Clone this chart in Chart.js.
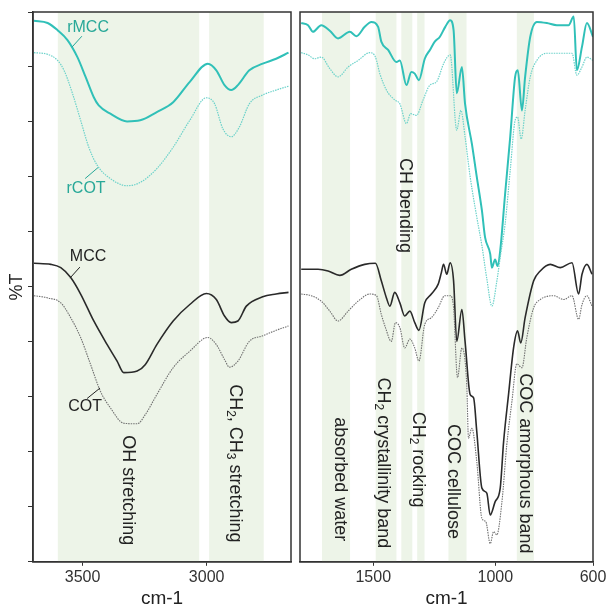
<!DOCTYPE html>
<html lang="en">
<head>
<meta charset="UTF-8">
<title>FTIR spectra</title>
<script src="https://cdn.jsdelivr.net/npm/chart.js@4.4.0/dist/chart.umd.min.js"></script>
<style>
  body { margin: 0; background: #fff; }
  #wrap { position: relative; width: 609px; height: 608px; }
  canvas { position: absolute; top: 0; }
</style>
</head>
<body>
<div id="wrap">
  <canvas id="leftChart" width="300" height="608" style="left:0"></canvas>
  <canvas id="rightChart" width="313" height="608" style="left:296px"></canvas>
</div>
<script>
// ---- left panel: 3700-2660 cm-1 ----
const leftTicks = [3500, 3000];

const leftWnRMCC = [3696,3641,3601,3561,3521,3488,3455,3435,3388,3321,3268,3201,3135,3068,2995,2961,2928,2901,2874,2828,2774,2720,2670];
const leftTRMCC  = [98.4,98,96.7,94.9,91.8,88.2,84.5,83,81.5,80.1,80.3,81.8,83.6,87.3,90.6,89.4,86.7,85.8,86.7,89.4,90.6,91.5,92.6];

const leftWnRCOT = [3696,3641,3601,3575,3541,3508,3475,3441,3388,3321,3268,3201,3135,3068,3001,2968,2935,2901,2868,2828,2774,2720,2670];
const leftTRCOT  = [92.6,92.3,91.2,89.4,85.2,80.3,75.4,72.1,69.7,68.4,69,71.5,75.4,80.3,84.4,83.3,78.8,77.3,79.1,83.3,84.9,85.8,86.5];

const leftWnMCC = [3696,3628,3588,3548,3508,3455,3401,3361,3334,3280,3247,3201,3135,3068,3001,2961,2928,2901,2874,2840,2774,2720,2670];
const leftTMCC  = [54.3,54.1,53.5,51.7,48.7,43.8,39.5,36.5,34.4,34.7,35.9,39.5,43.8,46.8,48.8,47.7,44.7,43.5,43.8,46.5,48.2,48.7,49];

const leftWnCOT = [3696,3641,3588,3548,3508,3468,3428,3388,3334,3280,3247,3201,3135,3068,2995,2961,2928,2908,2874,2828,2774,2720,2670];
const leftTCOT  = [48.4,48,47.1,44.4,40.8,35.9,31,28,25.2,25.1,26.8,30.4,35.3,38.3,40.8,39.5,36.8,35.4,36.5,40.1,41.1,42.1,42.9];

const leftBands = [[3600, 3030], [2990, 2770]];
const leftBandLabels = ['OH stretching', 'CH_2, CH_3 stretching'];
const leftBandLabelWn = [3317, 2886];
const leftBandLabelT = [13, 17.9];

// ---- right panel: 1800-600 cm-1 ----
const rightTicks = [1500, 1000, 600];

const rightWnRMCC = [1795,1767,1747,1713,1678,1644,1596,1569,1535,1508,1480,1467,1439,1405,1391,1364,1344,1330,1313,1289,1268,1248,1227,1205,1185,1171,1158,1137,1124,1096,1076,1055,1042,1021,1014,1001,991,980,960,939,919,908,891,878,857,830,789,748,700,679,666,645,625,600];
const rightTRMCC  = [98,97.6,96.4,97.6,96.6,95.2,96.4,95.6,97.3,98.2,97.3,94.6,93.1,90.9,91.2,86.7,89.1,88.8,87.6,91.5,93.1,94.6,95.5,97.3,98.5,96.7,85.2,90,83.3,76,70,63.9,59,56,53.5,55,53.8,56.6,66.9,77.3,88.2,89.4,82.1,88.2,95.5,98.2,98,97.6,97.6,99.2,89.4,93.7,98,95.5];

const rightWnRCOT = [1795,1767,1740,1713,1678,1644,1603,1562,1514,1491,1473,1446,1412,1391,1364,1347,1323,1296,1268,1241,1210,1185,1158,1141,1124,1103,1076,1055,1035,1014,994,978,960,939,919,909,894,878,857,830,789,734,686,666,645,625,600];
const rightTRCOT  = [92.6,92.2,91.5,91.8,89.7,88.2,90,91.2,92.6,91.8,88.8,85.8,84,83.3,79.7,81.5,81.2,84,86.7,87.3,90.8,92.2,78.5,82.1,77.3,70,62.7,57.5,51.5,46.5,51,56,61.4,71.2,80.3,80.9,76.9,82.1,88.2,91.2,92.5,92.5,92.5,88.5,90,91.8,91.2];

const rightWnMCC = [1795,1726,1685,1637,1590,1535,1491,1467,1446,1432,1412,1391,1371,1350,1330,1313,1289,1262,1234,1221,1212,1199,1185,1171,1158,1137,1124,1103,1089,1076,1055,1035,1021,1001,980,966,946,925,909,896,878,843,816,775,734,686,659,645,625,604];
const rightTMCC  = [53.2,53.2,52.9,52.1,53.2,54.1,54.3,51.1,48,46.5,49,47.1,44.7,45.6,43.5,42.1,47.1,48.7,50.5,52.6,54.1,52.3,54.4,51.1,40.1,45.9,40.1,30.4,29.8,23.7,13.4,12.5,8.5,10.9,13.4,21.9,30.4,39,42,39.8,44.4,51.1,52.9,54.1,53.5,54.4,48.7,52.3,54.1,52.3];

const rightWnCOT = [1795,1754,1713,1678,1644,1603,1562,1514,1487,1467,1450,1426,1409,1391,1371,1350,1330,1313,1289,1262,1234,1207,1185,1171,1155,1137,1117,1110,1096,1076,1055,1039,1021,1007,994,973,953,932,912,891,871,843,816,761,720,686,659,645,625,604];
const rightTCOT  = [48.7,48.4,47.4,45.6,43.8,45.6,47.4,48.7,48.4,45,42.6,40.1,43.5,42.6,38.9,40.5,38.9,36.5,43.2,44.4,46.2,48.4,48.4,46.2,33.5,38.9,32.2,22.5,24.3,18.2,7.9,7.3,3.3,5.5,4.9,10.9,21.3,29.2,36,35.3,40.8,46.2,47.7,48.4,47.7,48.4,44.1,46.8,48.4,46.5];

const rightBands = [[1710, 1595], [1490, 1405], [1385, 1340], [1320, 1290], [1192, 1118], [912, 842]];
const rightBandLabels = ['CH bending', 'absorbed water', 'CH_2 crystallinity band', 'CH_2 rocking', 'COC cellulose', 'COC amorphous band'];
const rightBandLabelWn = [1370, 1636, 1460, 1316, 1173, 878];
const rightBandLabelT = [64.8, 15, 18, 18.6, 14.6, 17.9];

// curve name labels (left panel), with leader lines
const curveNames = ['rMCC', 'rCOT', 'MCC', 'COT'];
const curveNameWn = [3478, 3486, 3478, 3490];
const curveNameT = [97.1, 67.9, 55.5, 28.3];
const leaderFromWn = [3503, 3490, 3511, 3482];
const leaderFromT = [95.6, 69.7, 53.6, 29.7];
const leaderToWn = [3543, 3438, 3551, 3430];
const leaderToT = [93.6, 71.7, 51.6, 31.6];

const colRMCC = '#30c0b8';
const colRCOT = '#6cd2ca';
const colMCC = '#2a2a2a';
const colCOT = '#707070';
const labelCols = ['#28a898', '#28a898', '#222', '#222'];
const FONT = '"Liberation Sans", Arial, sans-serif';

function pts(xs, ys) { return xs.map((x, i) => ({ x: x, y: ys[i] })); }

function series(label, xs, ys, color, width, dash) {
  return {
    label: label, data: pts(xs, ys), borderColor: color, borderWidth: width,
    borderDash: dash || [], pointRadius: 0, fill: false,
    cubicInterpolationMode: 'monotone'
  };
}

// draws text rotated 90deg clockwise, "_2" style markers become subscripts
function drawRotated(ctx, text, x, y) {
  const parts = text.split(/(_\d)/).filter(s => s.length);
  const big = '18px ' + FONT, small = '12px ' + FONT;
  let total = 0;
  parts.forEach(p => { ctx.font = p[0] === '_' ? small : big; total += ctx.measureText(p[0] === '_' ? p.slice(1) : p).width; });
  ctx.save();
  ctx.translate(x, y);
  ctx.rotate(Math.PI / 2);
  ctx.fillStyle = '#222';
  ctx.textBaseline = 'middle';
  ctx.textAlign = 'left';
  let cx = -total / 2;
  parts.forEach(p => {
    const sub = p[0] === '_';
    const s = sub ? p.slice(1) : p;
    ctx.font = sub ? small : big;
    ctx.fillText(s, cx, sub ? 5 : 0);
    cx += ctx.measureText(s).width;
  });
  ctx.restore();
}

function decor(bands, bandLabels, bandWn, bandT, withNames) {
  return {
    id: 'decor',
    beforeDatasetsDraw(chart) {
      const { ctx, chartArea: a, scales: { x } } = chart;
      ctx.save();
      ctx.fillStyle = '#edf4e8';
      bands.forEach(b => {
        const x1 = x.getPixelForValue(b[0]), x2 = x.getPixelForValue(b[1]);
        ctx.fillRect(Math.min(x1, x2), a.top, Math.abs(x2 - x1), a.bottom - a.top);
      });
      ctx.restore();
    },
    afterDatasetsDraw(chart) {
      const { ctx, scales: { x, y } } = chart;
      bandLabels.forEach((t, i) => drawRotated(ctx, t, x.getPixelForValue(bandWn[i]), y.getPixelForValue(bandT[i])));
      if (withNames) {
        ctx.save();
        ctx.font = '16px ' + FONT;
        ctx.textAlign = 'center';
        ctx.textBaseline = 'middle';
        curveNames.forEach((n, i) => {
          ctx.fillStyle = labelCols[i];
          ctx.fillText(n, x.getPixelForValue(curveNameWn[i]), y.getPixelForValue(curveNameT[i]));
          ctx.strokeStyle = labelCols[i];
          ctx.lineWidth = 1;
          ctx.beginPath();
          ctx.moveTo(x.getPixelForValue(leaderFromWn[i]), y.getPixelForValue(leaderFromT[i]));
          ctx.lineTo(x.getPixelForValue(leaderToWn[i]), y.getPixelForValue(leaderToT[i]));
          ctx.stroke();
        });
        ctx.restore();
      }
    },
    afterDraw(chart) {
      const { ctx, chartArea: a } = chart;
      ctx.save();
      ctx.strokeStyle = '#333';
      ctx.lineWidth = 1.5;
      ctx.strokeRect(a.left, a.top, a.right - a.left, a.bottom - a.top);
      ctx.restore();
    }
  };
}

function xAxis(min, max, ticks) {
  return {
    type: 'linear', reverse: true, min: min, max: max,
    afterBuildTicks: ax => { ax.ticks = ticks.map(v => ({ value: v })); },
    grid: { drawOnChartArea: false, tickLength: 4, color: '#333' },
    border: { color: '#333', width: 1.5 },
    ticks: { color: '#333', font: { family: FONT, size: 16 }, padding: 2, callback: v => String(v) },
    title: { display: true, text: 'cm-1', color: '#222', font: { family: FONT, size: 19, lineHeight: 1.0 }, padding: 0 }
  };
}

function yAxis(show) {
  return {
    display: show, min: 0, max: 100,
    ticks: { display: false, stepSize: 10 },
    grid: { drawOnChartArea: false, tickLength: 5, color: '#333' },
    border: { color: '#333', width: 1.5 },
    title: { display: true, text: '%T', color: '#222', font: { family: FONT, size: 18 }, padding: { top: 4, bottom: 0 } }
  };
}

const common = {
  responsive: false, animation: false,
  plugins: { legend: { display: false }, tooltip: { enabled: false } }
};

new Chart(document.getElementById('leftChart'), {
  type: 'line',
  data: {
    datasets: [
      series('rCOT', leftWnRCOT, leftTRCOT, colRCOT, 1.2, [1.5, 1]),
      series('rMCC', leftWnRMCC, leftTRMCC, colRMCC, 2),
      series('COT', leftWnCOT, leftTCOT, colCOT, 1.1, [1.5, 1]),
      series('MCC', leftWnMCC, leftTMCC, colMCC, 1.6)
    ]
  },
  options: Object.assign({}, common, {
    layout: { padding: { top: 12, right: 9, left: 2.4, bottom: 0 } },
    scales: { x: xAxis(2660, 3700, leftTicks), y: yAxis(true) }
  }),
  plugins: [decor(leftBands, leftBandLabels, leftBandLabelWn, leftBandLabelT, true)]
});

new Chart(document.getElementById('rightChart'), {
  type: 'line',
  data: {
    datasets: [
      series('rCOT', rightWnRCOT, rightTRCOT, colRCOT, 1.2, [1.5, 1]),
      series('rMCC', rightWnRMCC, rightTRMCC, colRMCC, 2),
      series('COT', rightWnCOT, rightTCOT, colCOT, 1.1, [1.5, 1]),
      series('MCC', rightWnMCC, rightTMCC, colMCC, 1.6)
    ]
  },
  options: Object.assign({}, common, {
    layout: { padding: { top: 12, right: 16, left: 4, bottom: 0 } },
    scales: { x: xAxis(600, 1800, rightTicks), y: yAxis(false) }
  }),
  plugins: [decor(rightBands, rightBandLabels, rightBandLabelWn, rightBandLabelT, false)]
});
</script>
</body>
</html>
